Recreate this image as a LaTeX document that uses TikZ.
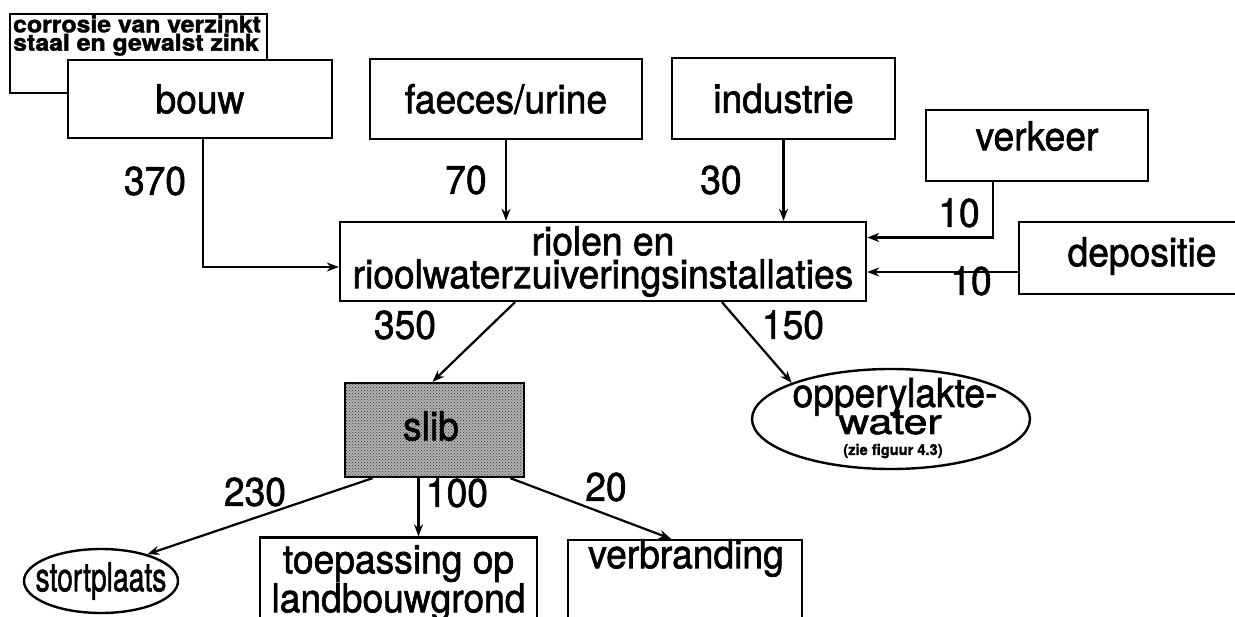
\documentclass[tikz,border=0pt]{standalone}
\usepackage{fontspec}
\usepackage{graphicx}
\setmainfont[FakeStretch=0.93,FakeBold=1.5]{TeX Gyre Heros}
\usetikzlibrary{arrows.meta,shapes.geometric,patterns}

\begin{document}
\begin{tikzpicture}[x=1pt,y=-1pt,
  box/.style={draw, line width=2.4pt, fill=white, inner sep=0pt,
              font=\fontsize{40}{33}\selectfont, align=center},
  oval/.style={box, ellipse},
  flow/.style={line width=2.2pt, -{Stealth[length=12pt,width=9pt]}},
  lbl/.style={inner sep=0pt, font=\fontsize{40}{40}\selectfont},
  txt/.style={inner sep=0pt, font=\fontsize{40}{33}\selectfont, align=center},
]
\useasboundingbox (0,0) rectangle (1235,617);
\clip (0,0) rectangle (1235,617);
\fill[white] (0,0) rectangle (1235,617);

% sources
\node[box, minimum width=257pt, minimum height=79pt] (corr) at (138.5,53.5) {};
\node[inner sep=0pt, anchor=north west, align=left,
      font=\fontsize{23}{17}\selectfont\bfseries] (corrtext) at (13,15)
      {\scalebox{1.16}[1]{corrosie van verzinkt}\\\scalebox{1.16}[1]{staal en gewalst zink}};
\node[box, minimum width=264pt, minimum height=78pt] (bouw) at (200,99) {bouw};
\node[box, minimum width=272pt, minimum height=80pt] (faeces) at (506,99) {faeces/urine};
\node[box, minimum width=223pt, minimum height=81pt] (industrie) at (783.5,98.5) {industrie};
\node[box, minimum width=222pt, minimum height=71pt] (verkeer) at (1037,145.5) {};
\node[txt] (verkeertext) at (1037,136) {verkeer};
\node[box, minimum width=231pt, minimum height=72pt] (depositie) at (1134.5,258) {};
\node[txt] (depositietext) at (1142,256) {depositie};

% sewer system
\node[box, minimum width=526pt, minimum height=79pt] (riolen) at (603,261.5)
  {riolen en\\rioolwaterzuiveringsinstallaties};

% sludge and surface water
\node[box, fill=gray!60, postaction={pattern=crosshatch dots, pattern color=black!80},
      minimum width=179pt, minimum height=94pt] (slib) at (434.5,430) {};
\node[txt] (slibtext) at (431,426) {slib};
\node[oval, minimum width=278pt, minimum height=100pt] (opper) at (891,419) {};
\node[txt, anchor=base] (oppertext1) at (895,407) {opperylakte-};
\node[txt, anchor=base] (oppertext2) at (890,434) {\scalebox{1.15}[0.88]{water}};
\node[inner sep=0pt, anchor=base, font=\fontsize{15}{15}\selectfont\bfseries] (oppertext3)
  at (893,455) {\scalebox{1.05}[1]{(zie figuur 4.3)}};

% destinations
\node[oval, minimum width=154pt, minimum height=64pt] (stort) at (101,581) {};
\node[txt] (storttext) at (101,581) {\scalebox{0.76}[1]{stortplaats}};
\node[box, font=\fontsize{40}{36}\selectfont, minimum width=277pt, minimum height=91pt]
  (toep) at (398.5,583) {toepassing op\\landbouwgrond};
\node[box, minimum width=234pt, minimum height=90pt] (verbr) at (685,585) {};
\node[txt] (verbrtext) at (686,558) {verbranding};

% flows into the sewer system
\draw[flow] ([xshift=3pt]bouw.south) |- ([yshift=-5.5pt]riolen.west);
\draw[flow] (faeces.south) -- (faeces.south |- riolen.north);
\draw[flow] (industrie.south) -- (industrie.south |- riolen.north);
\draw[flow] ([xshift=-44pt]verkeer.south) |- ([yshift=24pt]riolen.east);
\draw[flow] ([yshift=-14pt]depositie.west) -- ([yshift=-14pt]depositie.west -| riolen.east);

% flows out of the sewer system
\draw[flow] ([xshift=-88pt]riolen.south) -- ([xshift=-2pt]slib.north);
\draw[flow] ([xshift=119pt]riolen.south) -- (opper.160);

% sludge destinations
\draw[flow] ([xshift=-62pt]slib.south) -- (stort.30);
\draw[flow] ([xshift=-16pt]slib.south) -- ([xshift=-16pt]slib.south |- toep.north);
\draw[flow] ([xshift=76pt]slib.south) -- ([xshift=-14pt]verbr.north);

% amounts
\node[lbl] (n370) at (155,181) {370};
\node[lbl] (n70) at (466,180) {70};
\node[lbl] (n30) at (721,180) {30};
\node[lbl] (n10a) at (959,213) {10};
\node[lbl] (n10b) at (971,281) {10};
\node[lbl] (n350) at (405,325) {350};
\node[lbl] (n150) at (793,325) {150};
\node[lbl] (n230) at (255,492) {230};
\node[lbl] (n100) at (457,493) {100};
\node[lbl] (n20) at (606,487) {20};
\end{tikzpicture}
\end{document}
